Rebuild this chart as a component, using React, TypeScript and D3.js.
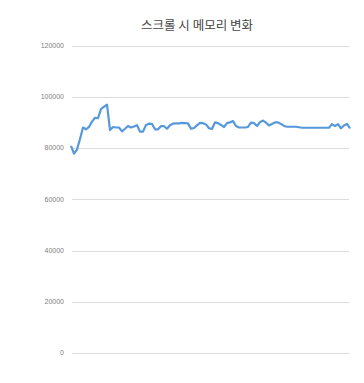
import * as d3 from 'd3';
import React, { useRef, useEffect } from 'react';

const title = '스크롤 시 메모리 변화';
const yTicks = [0, 20000, 40000, 60000, 80000, 100000, 120000];
// memory samples, left to right
const memory = [
  80800, 77800, 79400, 83500, 88000, 87300, 88200, 90300, 91800, 91600,
  95200, 96100, 96900, 87000, 88200, 88000, 88000, 86500, 87500, 88600,
  88000, 88400, 88900, 86400, 86400, 89000, 89500, 89400, 87300, 87300,
  88500, 88500, 87500, 88900, 89500, 89600, 89600, 89800, 89700, 89600,
  87500, 87800, 88800, 89800, 89700, 89200, 87700, 87400, 90000, 89700,
  89000, 88200, 89700, 90000, 90500, 88600, 88000, 88000, 88000, 88200,
  89900, 89700, 88600, 90100, 90700, 89900, 88800, 89400, 90000, 90000,
  89400, 88600, 88300, 88300, 88300, 88300, 88100, 87900, 87900, 87900,
  87900, 87900, 87900, 87900, 87900, 87900, 87900, 89300, 88600, 89300,
  87700, 88800, 89400, 87700,
];

const App = () => {
  const ref = useRef(null);

  useEffect(() => {
    draw();
  }, []);

  const draw = () => {
    const svg = d3.select(ref.current);
    svg.selectAll('*').remove();

    const left = 72;
    const right = 349;
    const top = 45.5;
    const bottom = 353;

    const x = d3.scaleLinear().domain([0, memory.length - 1]).range([71, 350]);
    const y = d3.scaleLinear().domain([0, 120000]).range([bottom, top]);

    svg.append('text')
      .attr('x', 197)
      .attr('y', 30)
      .attr('text-anchor', 'middle')
      .attr('font-family', '"Noto Sans CJK KR", "Noto Sans", sans-serif')
      .attr('font-size', 12.5)
      .attr('fill', '#444')
      .text(title);

    // gridlines
    svg.append('g')
      .selectAll('line')
      .data(yTicks)
      .enter().append('line')
      .attr('x1', left)
      .attr('x2', right)
      .attr('y1', d => Math.round(y(d)) + 0.5)
      .attr('y2', d => Math.round(y(d)) + 0.5)
      .attr('stroke', '#dcdcdc')
      .attr('stroke-width', 1);

    // tick labels
    svg.append('g')
      .selectAll('text')
      .data(yTicks)
      .enter().append('text')
      .attr('x', 64)
      .attr('y', d => y(d))
      .attr('dy', '0.35em')
      .attr('text-anchor', 'end')
      .attr('font-family', '"Liberation Sans", Arial, sans-serif')
      .attr('font-size', 7)
      .attr('fill', '#808080')
      .text(d => d);

    const line = d3.line()
      .x((d, i) => x(i))
      .y(d => y(d));

    svg.append('path')
      .datum(memory)
      .attr('d', line)
      .attr('fill', 'none')
      .attr('stroke', '#5598dc')
      .attr('stroke-width', 2.2)
      .attr('stroke-linejoin', 'round');
  };

  return (
    <div className='chart'>
      <svg ref={ref} width={364} height={383}
        style={{ position: 'absolute', left: 0, top: 0, background: '#fff' }}>
      </svg>
    </div>
  );
};

export default App;
